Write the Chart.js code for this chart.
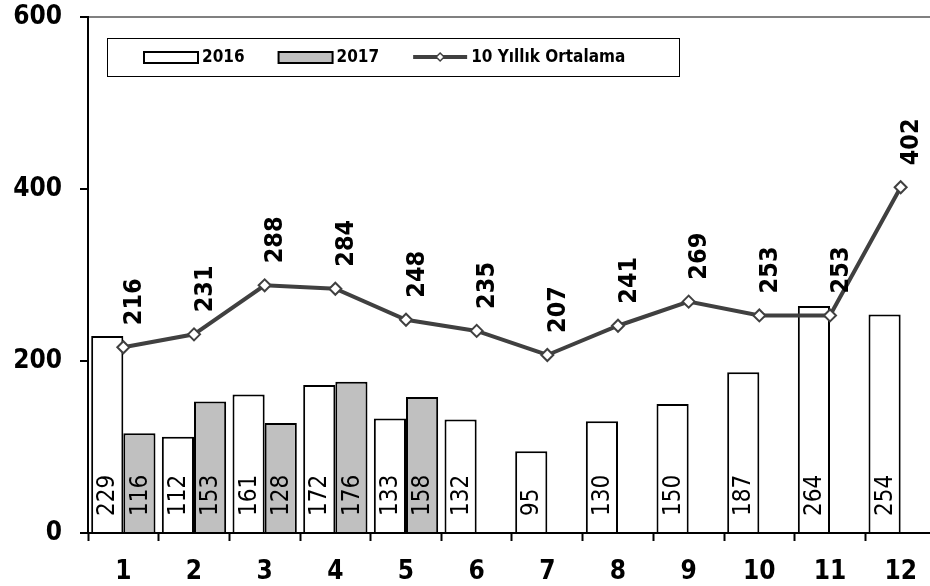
<!DOCTYPE html>
<html>
<head>
<meta charset="utf-8">
<script src="https://cdn.jsdelivr.net/npm/chart.js@4.4.1/dist/chart.umd.min.js"></script>
<style>
  html, body { margin: 0; padding: 0; background: #fff; overflow: hidden; }
  #wrap { width: 930px; height: 586px; overflow: hidden; }
</style>
</head>
<body>
<div id="wrap"><canvas id="c" width="944" height="586"></canvas></div>
<script>
const months = ['1', '2', '3', '4', '5', '6', '7', '8', '9', '10', '11', '12'];
const y2016 = [229, 112, 161, 172, 133, 132, 95, 130, 150, 187, 264, 254];
const y2017 = [116, 153, 128, 176, 158, null, null, null, null, null, null, null];
const avg10 = [216, 231, 288, 284, 248, 235, 207, 241, 269, 253, 253, 402];
const yTicks = [0, 200, 400, 600];

const FONT = "'DejaVu Sans Condensed', 'DejaVu Sans', sans-serif";

// value labels, rotated like the excel original
const labelPlugin = {
    id: 'labels',
    afterDatasetsDraw(chart) {
        const ctx = chart.ctx;
        const yScale = chart.scales.y;
        ctx.save();
        ctx.fillStyle = '#000';
        ctx.textBaseline = 'middle';
        ctx.textAlign = 'left';
        chart.data.datasets.forEach((ds, di) => {
            const meta = chart.getDatasetMeta(di);
            if (ds.type === 'bar') {
                // bar labels at the bottom inside bars
                ctx.font = '24px ' + FONT;
                meta.data.forEach((bar, i) => {
                    if (ds.data[i] == null) return;
                    ctx.save();
                    ctx.translate(bar.x + 1, yScale.getPixelForValue(0) - 17);
                    ctx.rotate(-Math.PI / 2);
                    ctx.fillText(String(ds.data[i]), 0, 0);
                    ctx.restore();
                });
            } else {
                // line labels above points
                ctx.font = 'bold 25px ' + FONT;
                meta.data.forEach((pt, i) => {
                    ctx.save();
                    ctx.translate(pt.x + 11, pt.y - 22);
                    ctx.rotate(-Math.PI / 2);
                    ctx.fillText(String(ds.data[i]), 0, 0);
                    ctx.restore();
                });
            }
        });
        ctx.restore();
    }
};

// boxed legend inside the plot
const legendPlugin = {
    id: 'boxLegend',
    afterDraw(chart) {
        const ctx = chart.ctx;
        const bx = 107, by = 38, bw = 572, bh = 38;
        ctx.save();
        ctx.fillStyle = '#fff';
        ctx.fillRect(bx, by, bw, bh);
        ctx.strokeStyle = '#000';
        ctx.lineWidth = 1;
        ctx.strokeRect(bx + 0.5, by + 0.5, bw, bh);
        ctx.font = 'bold 17px ' + FONT;
        ctx.textBaseline = 'middle';
        ctx.textAlign = 'left';
        const cy = by + bh / 2;
        let x = 144;
        chart.data.datasets.forEach(ds => {
            if (ds.type === 'line') {
                ctx.strokeStyle = ds.borderColor;
                ctx.lineWidth = 4;
                ctx.beginPath();
                ctx.moveTo(x, cy);
                ctx.lineTo(x + 54, cy);
                ctx.stroke();
                ctx.fillStyle = '#fff';
                ctx.strokeStyle = ds.borderColor;
                ctx.lineWidth = 1.5;
                ctx.beginPath();
                ctx.moveTo(x + 27, cy - 4);
                ctx.lineTo(x + 31, cy);
                ctx.lineTo(x + 27, cy + 4);
                ctx.lineTo(x + 23, cy);
                ctx.closePath();
                ctx.fill();
                ctx.stroke();
            } else {
                ctx.fillStyle = ds.backgroundColor;
                ctx.fillRect(x, cy - 5, 54, 11);
                ctx.strokeStyle = '#000';
                ctx.lineWidth = 2;
                ctx.strokeRect(x, cy - 5, 54, 11);
            }
            x += 58;
            ctx.fillStyle = '#000';
            ctx.fillText(ds.label, x, cy + 1);
            x += ctx.measureText(ds.label).width + 34;
        });
        ctx.restore();
    }
};

new Chart(document.getElementById('c'), {
    data: {
        labels: months,
        datasets: [
            {
                type: 'bar',
                label: '2016',
                data: y2016,
                backgroundColor: '#ffffff',
                borderColor: '#000',
                borderWidth: 2,
                categoryPercentage: 0.91,
                barPercentage: 1,
                order: 1
            },
            {
                type: 'bar',
                label: '2017',
                data: y2017,
                backgroundColor: '#c0c0c0',
                borderColor: '#000',
                borderWidth: 2,
                categoryPercentage: 0.91,
                barPercentage: 1,
                order: 1
            },
            {
                type: 'line',
                label: '10 Yıllık Ortalama',
                data: avg10,
                borderColor: '#404040',
                borderWidth: 4,
                pointStyle: 'rectRot',
                pointRadius: 6,
                pointBackgroundColor: '#fff',
                pointBorderColor: '#404040',
                pointBorderWidth: 2,
                tension: 0,
                order: 0
            }
        ]
    },
    options: {
        responsive: false,
        animation: false,
        layout: { padding: { top: 17, right: 0, left: 0, bottom: 0 } },
        plugins: {
            legend: { display: false },
            tooltip: { enabled: false }
        },
        scales: {
            x: {
                offset: true,
                grid: {
                    offset: true,
                    drawOnChartArea: false,
                    tickLength: 8,
                    tickColor: '#000',
                    tickWidth: 2
                },
                border: { color: '#000', width: 2 },
                ticks: {
                    color: '#000',
                    font: { family: FONT, size: 26, weight: 'bold' },
                    padding: 16,
                    maxRotation: 0
                },
                afterFit(scale) {
                    scale.height = 53;
                    scale.paddingLeft = 0;
                    scale.paddingRight = 0;
                }
            },
            y: {
                min: 0,
                max: 600,
                afterBuildTicks(scale) { scale.ticks = yTicks.map(v => ({ value: v })); },
                grid: {
                    color: c => (c.tick && c.tick.value === 600 ? '#808080' : 'rgba(0,0,0,0)'),
                    lineWidth: 2,
                    tickLength: 8,
                    tickColor: '#000',
                    tickWidth: 2
                },
                border: { color: '#000', width: 2 },
                ticks: {
                    color: '#000',
                    font: { family: FONT, size: 26, weight: 'bold' },
                    padding: 18
                },
                afterFit(scale) {
                    scale.width = 88;
                    scale.paddingTop = 0;
                    scale.paddingBottom = 0;
                }
            }
        }
    },
    plugins: [labelPlugin, legendPlugin]
});
</script>
</body>
</html>
